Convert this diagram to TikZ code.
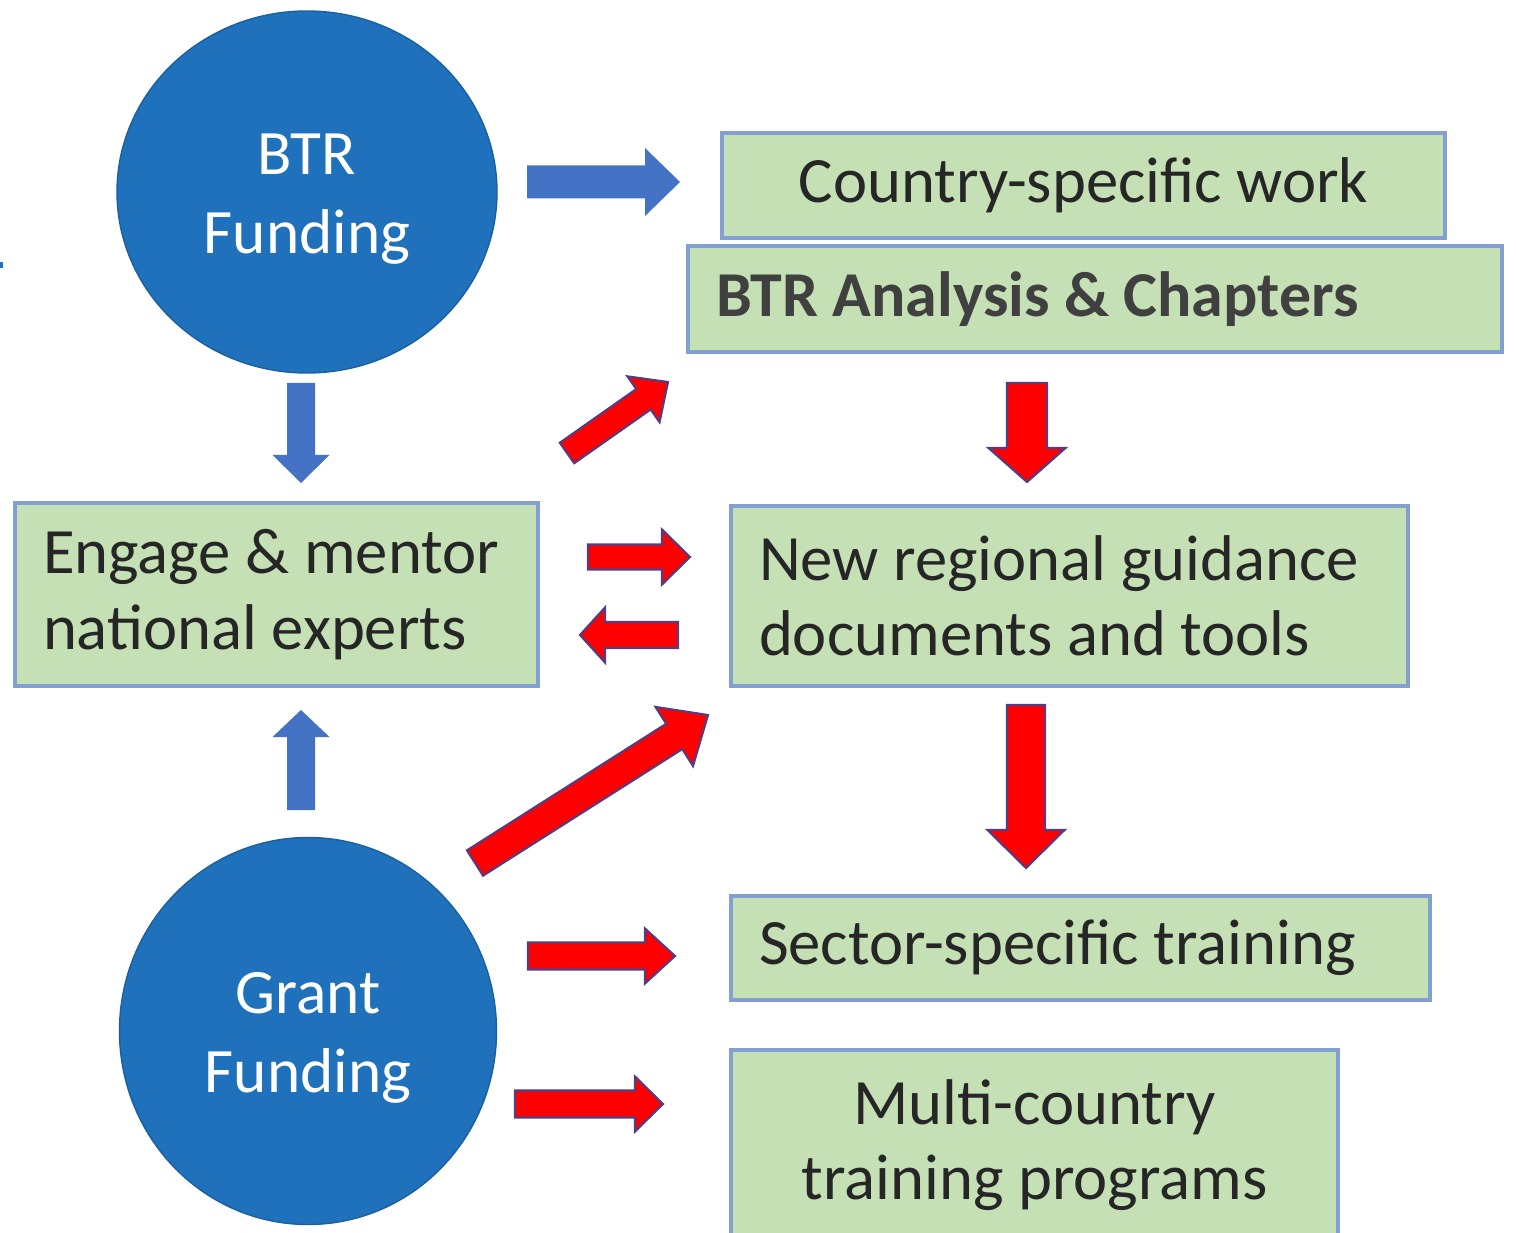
\documentclass[tikz,border=0pt]{standalone}
\usepackage{fontspec}
\setmainfont{Carlito}
\usetikzlibrary{calc,shapes.geometric}

\definecolor{fundblue}{RGB}{31,113,187}
\definecolor{arrowblue}{RGB}{68,114,196}
\definecolor{boxgreen}{RGB}{197,224,180}
\definecolor{boxedge}{RGB}{130,160,210}
\definecolor{arrowedge}{RGB}{85,60,130}
\definecolor{labelgray}{RGB}{64,64,64}

\begin{document}
\begin{tikzpicture}[
        plainspaces/.style={execute at begin node={\spaceskip=0pt\xspaceskip=0pt\relax}},
        funding/.style={ellipse,fill=fundblue,draw=fundblue!85!black,text=white,
            align=center,inner sep=0pt,plainspaces,font=\fontsize{18}{22.5}\selectfont},
        greenbox/.style={rectangle,fill=boxgreen,draw=boxedge,line width=1pt,
            inner xsep=0.28cm,inner ysep=0pt,text=black!85,plainspaces,
            font=\fontsize{18.4}{21.5}\selectfont},
        blockarrow/.style n args={3}{to path={
            let \p1=($(\tikztotarget)-(\tikztostart)$),\n1={atan2(\y1,\x1)} in
            ($(\tikztostart)+(\n1+90:#1)$) -- ($(\tikztotarget)+(\n1:-#3)+(\n1+90:#1)$)
            -- ($(\tikztotarget)+(\n1:-#3)+(\n1+90:#2)$) -- (\tikztotarget)
            -- ($(\tikztotarget)+(\n1:-#3)+(\n1-90:#2)$) -- ($(\tikztotarget)+(\n1:-#3)+(\n1-90:#1)$)
            -- ($(\tikztostart)+(\n1-90:#1)$) -- cycle}},
        bluearrow/.style={fill=arrowblue,draw=none},
        redarrow/.style={fill=red,draw=arrowedge,line width=0.6pt}
    ]
    \useasboundingbox (0,0) rectangle (15.16,12.32);
    \fill[fundblue] (0,9.64) rectangle (0.03,9.70);

    % funding circles
    \node[funding,minimum width=3.80cm,minimum height=3.62cm] (btr) at (3.07,10.40) {\rule{0pt}{0.54cm}BTR\\Funding};
    \node[funding,minimum width=3.77cm,minimum height=3.87cm] (grant) at (3.08,2.01) {\rule{0pt}{0.54cm}Grant\\Funding};

    % boxes
    \node[greenbox,minimum width=7.23cm,minimum height=1.05cm,align=center] (country) at (10.835,10.465) {Country-specific work};
    \node[greenbox,minimum width=8.14cm,minimum height=1.06cm,text width=7.58cm,align=left,
        text=labelgray,font=\fontsize{18.2}{21.5}\selectfont\bfseries] (analysis) at (10.95,9.33) {BTR Analysis \& Chapters};
    \node[greenbox,minimum width=5.23cm,minimum height=1.83cm,text width=4.67cm,align=left] (mentor) at (2.765,6.375) {Engage \& mentor\\national experts};
    \node[greenbox,minimum width=6.77cm,minimum height=1.80cm,text width=6.21cm,align=left] (guidance) at (10.695,6.36) {New regional guidance\\documents and tools};
    \node[greenbox,minimum width=6.99cm,minimum height=1.04cm,text width=6.43cm,align=left] (sector) at (10.805,2.84) {Sector-specific training};
    \node[greenbox,minimum width=6.07cm,minimum height=1.90cm,align=center] (multi) at (10.345,0.87) {Multi-country\\training programs};

    % arrow ends
    \coordinate (b1s) at (5.27,10.50);  \coordinate (b1t) at (6.80,10.50);
    \coordinate (b2s) at (3.01,8.49);   \coordinate (b2t) at (3.01,7.49);
    \coordinate (b3s) at (3.01,4.22);   \coordinate (b3t) at (3.01,5.22);
    \coordinate (r1s) at (5.67,7.79);   \coordinate (r1t) at (6.68,8.50);
    \coordinate (r2s) at (10.27,8.49);  \coordinate (r2t) at (10.27,7.50);
    \coordinate (r3s) at (5.88,6.75);   \coordinate (r3t) at (6.90,6.75);
    \coordinate (r4s) at (6.78,5.97);   \coordinate (r4t) at (5.80,5.97);
    \coordinate (r5s) at (4.75,3.69);   \coordinate (r5t) at (7.08,5.17);
    \coordinate (r6s) at (10.26,5.27);  \coordinate (r6t) at (10.26,3.64);
    \coordinate (r7s) at (5.28,2.76);   \coordinate (r7t) at (6.75,2.76);
    \coordinate (r8s) at (5.15,1.28);   \coordinate (r8t) at (6.63,1.28);

    % blue arrows
    \path[bluearrow] (b1s) to[blockarrow={0.165cm}{0.34cm}{0.35cm}] (b1t);
    \path[bluearrow] (b2s) to[blockarrow={0.14cm}{0.285cm}{0.28cm}] (b2t);
    \path[bluearrow] (b3s) to[blockarrow={0.14cm}{0.285cm}{0.27cm}] (b3t);

    % red arrows
    \path[redarrow] (r1s) to[blockarrow={0.125cm}{0.28cm}{0.30cm}] (r1t);
    \path[redarrow] (r2s) to[blockarrow={0.20cm}{0.385cm}{0.34cm}] (r2t);
    \path[redarrow] (r3s) to[blockarrow={0.125cm}{0.275cm}{0.28cm}] (r3t);
    \path[redarrow] (r4s) to[blockarrow={0.13cm}{0.275cm}{0.25cm}] (r4t);
    \path[redarrow] (r5s) to[blockarrow={0.15cm}{0.35cm}{0.40cm}] (r5t);
    \path[redarrow] (r6s) to[blockarrow={0.19cm}{0.385cm}{0.38cm}] (r6t);
    \path[redarrow] (r7s) to[blockarrow={0.135cm}{0.275cm}{0.30cm}] (r7t);
    \path[redarrow] (r8s) to[blockarrow={0.135cm}{0.275cm}{0.28cm}] (r8t);
\end{tikzpicture}
\end{document}
